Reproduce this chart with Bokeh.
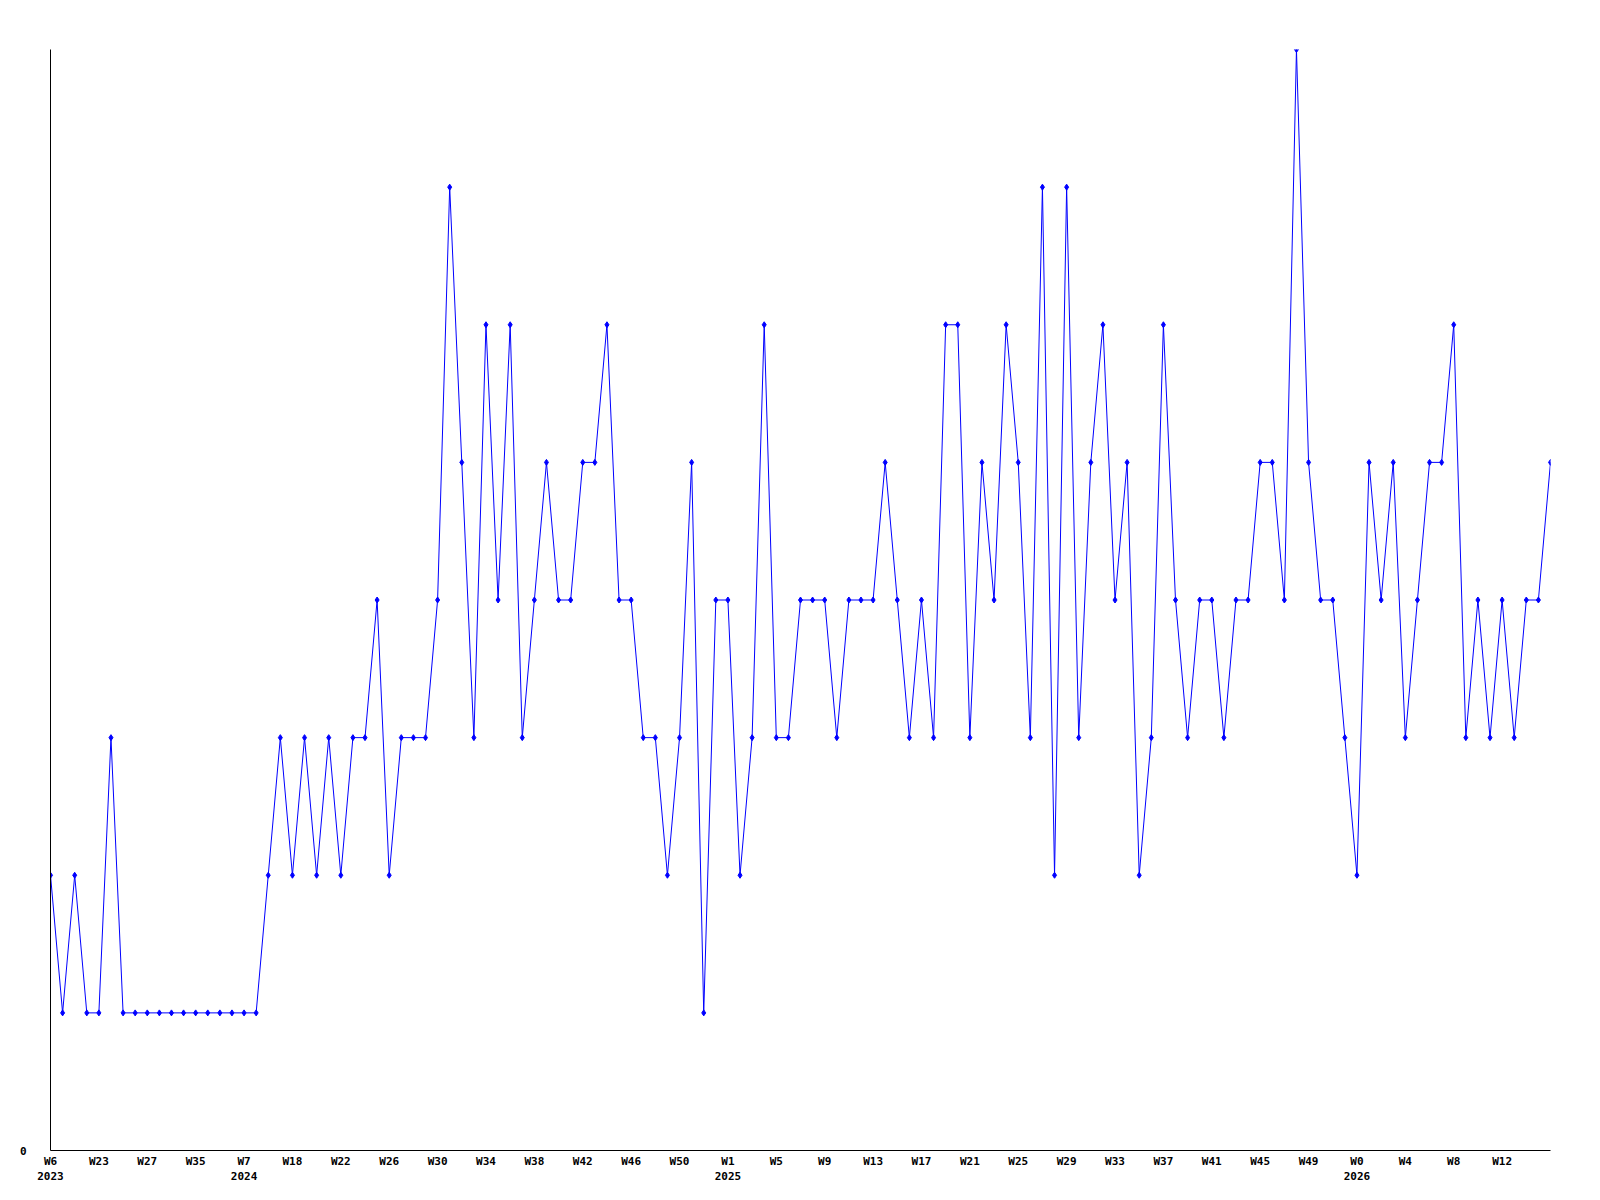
from bokeh.plotting import figure
from bokeh.models import FixedTicker, Range1d, ColumnDataSource
from bokeh.embed import file_html
from bokeh.resources import INLINE

values = [2, 1, 2, 1, 1, 3, 1, 1, 1, 1, 1, 1, 1, 1, 1, 1, 1, 1,
          2, 3, 2, 3, 2, 3, 2, 3, 3, 4, 2, 3, 3, 3, 4, 7, 5, 3, 6, 4, 6,
          3, 4, 5, 4, 4, 5, 5, 6, 4, 4, 3, 3, 2, 3, 5, 1, 4, 4, 2, 3, 6,
          3, 3, 4, 4, 4, 3, 4, 4, 4, 5, 4, 3, 4, 3, 6, 6, 3, 5, 4, 6, 5,
          3, 7, 2, 7, 3, 5, 6, 4, 5, 2, 3, 6, 4, 3, 4, 4, 3, 4, 4, 5, 5,
          4, 8, 5, 4, 4, 3, 2, 5, 4, 5, 3, 4, 5, 5, 6, 3, 4, 3, 4, 3, 4,
          4, 5]

tick_labels = ["W6\n2023", "W23", "W27", "W35", "W7\n2024", "W18", "W22", "W26",
               "W30", "W34", "W38", "W42", "W46", "W50", "W1\n2025", "W5", "W9",
               "W13", "W17", "W21", "W25", "W29", "W33", "W37", "W41", "W45",
               "W49", "W0\n2026", "W4", "W8", "W12"]
label_every = 4

x = list(range(len(values)))
src = ColumnDataSource(dict(x=x, y=values))

p = figure(width=1568, height=1190, output_backend="svg", toolbar_location=None,
           x_range=Range1d(0, len(values) - 1), y_range=Range1d(0, 8))
p.min_border_left = 50
p.min_border_right = 18
p.min_border_top = 49
p.min_border_bottom = 40
p.outline_line_color = None
p.xgrid.visible = False
p.ygrid.visible = False

p.line("x", "y", source=src, line_color="#0000ff", line_width=1)
p.scatter("x", "y", source=src, marker="diamond", size=6, color="#0000ff")

ticks = [i * label_every for i in range(len(tick_labels))]
p.xaxis.ticker = FixedTicker(ticks=ticks)
p.xaxis.major_label_overrides = {t: lab for t, lab in zip(ticks, tick_labels)}
p.yaxis.ticker = FixedTicker(ticks=[0])

for ax in (p.xaxis[0], p.yaxis[0]):
    ax.axis_line_color = "black"
    ax.axis_line_width = 1
    ax.major_tick_line_color = None
    ax.minor_tick_line_color = None
    ax.major_tick_out = 0
    ax.major_tick_in = 0
    ax.major_label_text_font = "DejaVu Sans Mono"
    ax.major_label_text_font_size = "11px"
    ax.major_label_text_font_style = "bold"
    ax.major_label_text_color = "black"

p.xaxis.major_label_standoff = 4
p.yaxis.major_label_standoff = 24

open("out.html", "w").write(file_html(p, INLINE))
